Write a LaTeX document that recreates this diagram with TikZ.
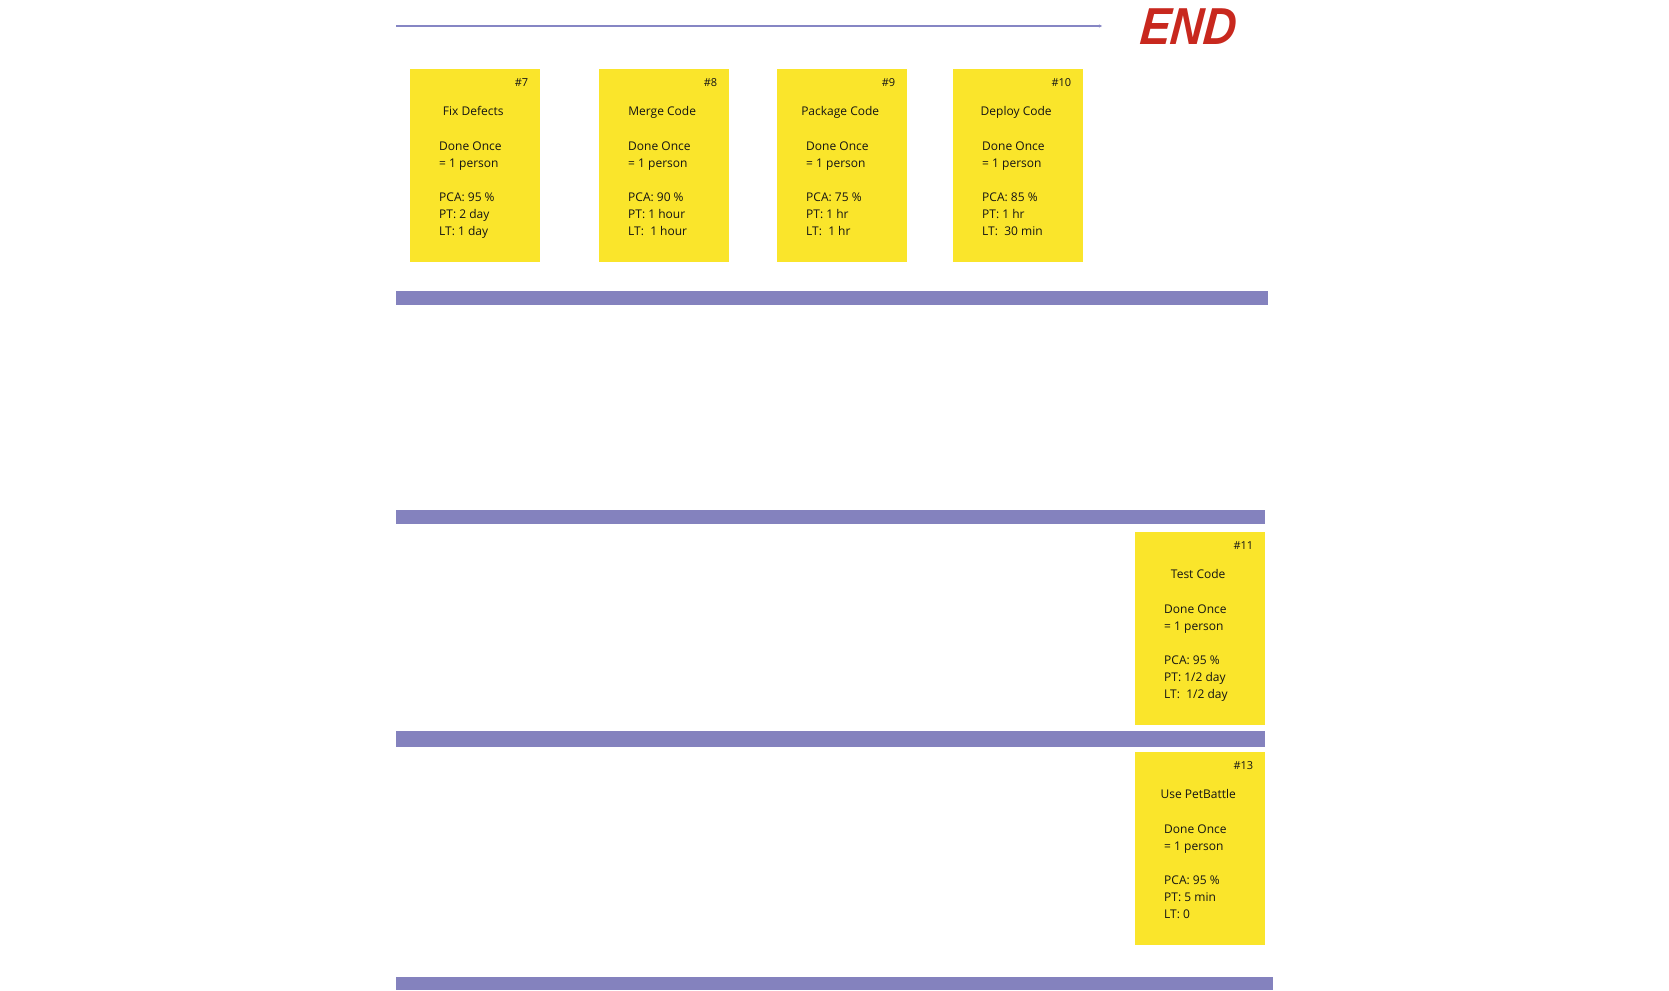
\documentclass[tikz,border=0pt]{standalone}
\usepackage{fontspec}
\setmainfont{Open Sans}
\newfontfamily\endfont{Liberation Sans}
\usetikzlibrary{arrows.meta}
\definecolor{sticky}{HTML}{FAE52B}
\definecolor{lane}{HTML}{8482BE}
\definecolor{flow}{HTML}{8686C4}
\definecolor{endred}{HTML}{C8281E}
\definecolor{ink}{HTML}{141414}
\tikzset{
  card/.style={fill=sticky, draw=none, minimum width=130pt, minimum height=193pt, anchor=north west, inner sep=0pt},
  lanebar/.style={fill=lane, draw=none},
  cardtxt/.style={font=\fontsize{12}{14}\selectfont, text=ink, inner sep=0pt, text height=9pt, text depth=3pt},
  numtxt/.style={cardtxt, font=\fontsize{11}{13}\selectfont, anchor=east},
  bodytxt/.style={cardtxt, anchor=west},
}
\newcommand\stickycard[8]{%
  \node[card] (#1) at (#2,#3) {};
  \node[numtxt] (#1n) at ([xshift=-12pt,yshift=-14pt]#1.north east) {\##4};
  \node[cardtxt] (#1t) at ([xshift=-2pt,yshift=-43.5pt]#1.north) {#5};
  \node[bodytxt] (#1a) at ([xshift=29pt,yshift=-78.5pt]#1.north west) {Done Once};
  \node[bodytxt] (#1b) at ([xshift=29pt,yshift=-95.5pt]#1.north west) {= 1 person};
  \node[bodytxt] (#1c) at ([xshift=29pt,yshift=-129.5pt]#1.north west) {PCA: #6};
  \node[bodytxt] (#1d) at ([xshift=29pt,yshift=-146.5pt]#1.north west) {PT: #7};
  \node[bodytxt] (#1e) at ([xshift=29pt,yshift=-163.5pt]#1.north west) {LT: #8};
}
\begin{document}
\begin{tikzpicture}[x=1pt,y=-1pt]
\useasboundingbox (0,0) rectangle (1669,990);
% top flow line
\coordinate (fs) at (396,26);
\coordinate (fe) at (1102,26);
\draw[flow, line width=1.1pt, -{Stealth[length=3pt,width=3pt]}] (fs) -- (fe);
\node[text=endred, font=\endfont\bfseries\itshape\fontsize{52}{52}\selectfont, xscale=0.88, xslant=0.1, inner sep=0pt] (endlbl) at (1189,27) {END};
% lane bars
\fill[lanebar] (396,291) rectangle (1268,305);
\fill[lanebar] (396,510) rectangle (1265,524);
\fill[lanebar] (396,731) rectangle (1265,747);
\fill[lanebar] (396,977) rectangle (1273,990);
% cards
\stickycard{c7}{410}{69}{7}{Fix Defects}{95 \%}{2 day}{1 day}
\stickycard{c8}{599}{69}{8}{Merge Code}{90 \%}{1 hour}{\ 1 hour}
\stickycard{c9}{777}{69}{9}{Package Code}{75 \%}{1 hr}{\ 1 hr}
\stickycard{c10}{953}{69}{10}{Deploy Code}{85 \%}{1 hr}{\ 30 min}
\stickycard{c11}{1135}{532}{11}{Test Code}{95 \%}{1/2 day}{\ 1/2 day}
\stickycard{c13}{1135}{752}{13}{Use PetBattle}{95 \%}{5 min}{0}
\end{tikzpicture}
\end{document}
